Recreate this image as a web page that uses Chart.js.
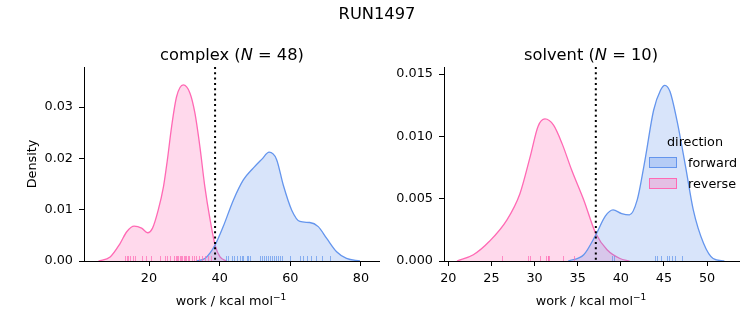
<!DOCTYPE html>
<html>
<head>
<meta charset="utf-8">
<script src="https://cdn.jsdelivr.net/npm/chart.js@4"></script>
<style>
  body { margin: 0; background: #fff; font-family: "DejaVu Sans", sans-serif; }
  #fig { position: relative; width: 753px; height: 325px; overflow: hidden; }
  .box { position: absolute; top: 0; height: 325px; }
  .txt { position: absolute; white-space: nowrap; color: #000; transform: translate(-50%, -50%); }
  .sw { position: absolute; width: 26px; height: 9px; border: 1px solid; }
  #ylab { position: absolute; left: 24px; top: 190px; width: 52px; line-height: 15px; text-align: center;
          font-size: 12.8px; color: #000; white-space: nowrap; transform-origin: 0 0; transform: rotate(-90deg); }
</style>
</head>
<body>
<div id="fig">
  <div class="box" style="left:0;width:385px"><canvas id="cComplex"></canvas></div>
  <div class="box" style="left:385px;width:368px"><canvas id="cSolvent"></canvas></div>

  <div class="txt" style="left:377px;top:13px;font-size:16.3px">RUN1497</div>
  <div class="txt" style="left:232px;top:54px;font-size:16.3px">complex (<i>N</i> = 48)</div>
  <div class="txt" style="left:591px;top:54px;font-size:16.3px">solvent (<i>N</i> = 10)</div>
  <div id="ylab">Density</div>
  <div class="txt" style="left:231px;top:300px;font-size:12.8px">work / kcal mol<sup style="font-size:9px">−1</sup></div>
  <div class="txt" style="left:591px;top:300px;font-size:12.8px">work / kcal mol<sup style="font-size:9px">−1</sup></div>

  <div class="txt" style="left:695px;top:141px;font-size:12.8px">direction</div>
  <div class="sw" style="left:649px;top:157px;background:rgba(100,149,237,0.3);border-color:#6495ed"></div>
  <div class="txt" style="left:688px;top:162px;font-size:12.8px;transform:translate(0,-50%)">forward</div>
  <div class="sw" style="left:649px;top:178px;background:rgba(255,105,180,0.3);border-color:#ff69b4"></div>
  <div class="txt" style="left:688px;top:183px;font-size:12.8px;transform:translate(0,-50%)">reverse</div>
</div>
<script>
// --- data ---
const complexForwardX = [33.5, 35.8, 37.3, 38.7, 41.0, 43.9, 46.7, 49.5, 51.9, 54.0, 56.1, 58.0, 60.4, 62.7, 65.5, 67.9, 70.3, 73.1, 75.9, 79.7];
const complexForwardY = [0, 0.0005, 0.0016, 0.0031, 0.0067, 0.0119, 0.0158, 0.0181, 0.0198, 0.0212, 0.0198, 0.0148, 0.0099, 0.0077, 0.0075, 0.0067, 0.0044, 0.0018, 0.0005, 0];
const complexReverseX = [5.7, 9.0, 11.8, 13.7, 15.8, 17.9, 19.6, 21.0, 22.6, 24.1, 25.2, 26.4, 27.8, 29.7, 31.6, 33.0, 34.4, 35.8, 37.3, 38.7, 40.1, 42.0];
const complexReverseY = [0, 0.0008, 0.0034, 0.0057, 0.0068, 0.0064, 0.0055, 0.0064, 0.0099, 0.0145, 0.0197, 0.0262, 0.0320, 0.0343, 0.0327, 0.0288, 0.0223, 0.0145, 0.0080, 0.0031, 0.0008, 0];
const complexForwardRug = [41.8, 42.4, 43.4, 44.0, 44.8, 45.7, 46.2, 46.7, 47.6, 48.1, 48.6, 51.4, 52.0, 52.5, 53.1, 53.7, 54.2, 54.8, 55.4, 55.9, 56.5, 57.1, 57.6, 59.9, 62.7, 63.6, 64.7, 65.8, 67.2, 68.9, 71.2];
const complexReverseRug = [13.2, 13.7, 14.1, 14.6, 15.4, 16.0, 17.9, 19.1, 20.7, 23.1, 24.5, 25.2, 26.0, 27.0, 27.5, 28.0, 28.3, 28.7, 29.0, 29.4, 29.8, 30.2, 30.5, 31.0, 31.4, 32.3, 32.8, 33.3, 34.2, 35.0, 35.9, 36.8, 37.5];
const complexCut = 38.7;

const solventForwardX = [33.9, 35.7, 37.1, 38.2, 39.1, 40.1, 41.0, 41.9, 42.8, 43.8, 44.6, 45.1, 45.7, 46.5, 47.5, 48.4, 49.6, 50.7, 52.0];
const solventForwardY = [0, 0.0005, 0.0021, 0.0036, 0.0041, 0.0038, 0.0037, 0.0049, 0.0081, 0.0121, 0.0137, 0.0141, 0.0136, 0.0113, 0.0076, 0.0041, 0.0014, 0.0002, 0];
const solventReverseX = [21.0, 22.9, 24.8, 26.8, 28.3, 29.5, 30.4, 31.2, 32.2, 33.2, 34.3, 35.7, 37.1, 38.4, 39.9, 41.0];
const solventReverseY = [0, 0.0005, 0.0016, 0.0033, 0.0054, 0.0084, 0.0108, 0.0114, 0.0109, 0.0094, 0.0073, 0.0049, 0.0022, 0.0009, 0.0002, 0];
const solventForwardRug = [39.0, 39.2, 44.0, 44.2, 44.6, 45.4, 45.6, 45.9, 46.3, 47.1];
const solventReverseRug = [26.2, 29.2, 29.5, 30.6, 31.3, 31.5, 31.6, 31.7, 33.3, 34.6];
const solventCut = 37.1;

const complexXTicks = [20, 40, 60, 80];
const complexYTicks = [0, 0.01, 0.02, 0.03];
const solventXTicks = [20, 25, 30, 35, 40, 45, 50];
const solventYTicks = [0, 0.005, 0.010, 0.015];

const BLUE = '#6495ed', PINK = '#ff69b4';
const FONT = { family: 'DejaVu Sans', size: 12.8 };

const pts = (xs, ys) => xs.map((x, i) => ({ x: x, y: ys[i] }));

// rug ticks + dotted work cut line
const extrasPlugin = {
  id: 'extras',
  afterDatasetsDraw(chart, args, opts) {
    const { ctx, chartArea, scales } = chart;
    ctx.save();
    ctx.lineWidth = 1;
    [[opts.rugForward, 'rgba(100,149,237,0.7)'], [opts.rugReverse, 'rgba(255,105,180,0.7)']].forEach(([vals, col]) => {
      ctx.strokeStyle = col;
      vals.forEach(v => {
        const px = Math.round(scales.x.getPixelForValue(v)) + 0.5;
        ctx.beginPath();
        ctx.moveTo(px, chartArea.bottom);
        ctx.lineTo(px, chartArea.bottom - 5);
        ctx.stroke();
      });
    });
    const cx = scales.x.getPixelForValue(opts.cut);
    ctx.strokeStyle = '#000';
    ctx.lineWidth = 2;
    ctx.setLineDash([2, 3.3]);
    ctx.beginPath();
    ctx.moveTo(cx, chartArea.top);
    ctx.lineTo(cx, chartArea.bottom);
    ctx.stroke();
    ctx.restore();
  }
};

function makeChart(id, cfg) {
  return new Chart(document.getElementById(id), {
    type: 'line',
    data: {
      datasets: [
        { data: pts(cfg.fx, cfg.fy), borderColor: BLUE, backgroundColor: 'rgba(100,149,237,0.25)', fill: 'origin' },
        { data: pts(cfg.rx, cfg.ry), borderColor: PINK, backgroundColor: 'rgba(255,105,180,0.25)', fill: 'origin' }
      ]
    },
    options: {
      responsive: true,
      maintainAspectRatio: false,
      animation: false,
      layout: { padding: { top: 67, right: cfg.padRight, left: 0, bottom: 0 } },
      elements: {
        point: { radius: 0 },
        line: { borderWidth: 1.3, cubicInterpolationMode: 'monotone' }
      },
      plugins: {
        legend: { display: false },
        tooltip: { enabled: false },
        extras: { rugForward: cfg.rugF, rugReverse: cfg.rugR, cut: cfg.cut }
      },
      scales: {
        x: {
          type: 'linear', min: cfg.xMin, max: cfg.xMax,
          afterFit: s => { s.height = 64; },
          afterBuildTicks: s => { s.ticks = cfg.xTicks.map(v => ({ value: v })); },
          grid: { drawOnChartArea: false, tickLength: 5, tickColor: '#000' },
          border: { display: true, color: '#000', width: 1 },
          ticks: { color: '#000', font: FONT, padding: 5, maxRotation: 0, callback: v => String(v) }
        },
        y: {
          type: 'linear', min: 0, max: cfg.yMax,
          afterFit: s => { s.width = cfg.yWidth; },
          afterBuildTicks: s => { s.ticks = cfg.yTicks.map(v => ({ value: v })); },
          grid: { drawOnChartArea: false, tickLength: 5, tickColor: '#000' },
          border: { display: true, color: '#000', width: 1 },
          ticks: { color: '#000', font: FONT, padding: 6, callback: v => v.toFixed(cfg.dec) }
        }
      }
    },
    plugins: [extrasPlugin]
  });
}

makeChart('cComplex', {
  fx: complexForwardX, fy: complexForwardY, rx: complexReverseX, ry: complexReverseY,
  rugF: complexForwardRug, rugR: complexReverseRug, cut: complexCut,
  xMin: 1.6, xMax: 85.1, yMax: 0.0378, xTicks: complexXTicks, yTicks: complexYTicks,
  dec: 2, yWidth: 84, padRight: 6
});
makeChart('cSolvent', {
  fx: solventForwardX, fy: solventForwardY, rx: solventReverseX, ry: solventReverseY,
  rugF: solventForwardRug, rugR: solventReverseRug, cut: solventCut,
  xMin: 19.5, xMax: 53.7, yMax: 0.01557, xTicks: solventXTicks, yTicks: solventYTicks,
  dec: 3, yWidth: 59, padRight: 14
});
</script>
</body>
</html>
